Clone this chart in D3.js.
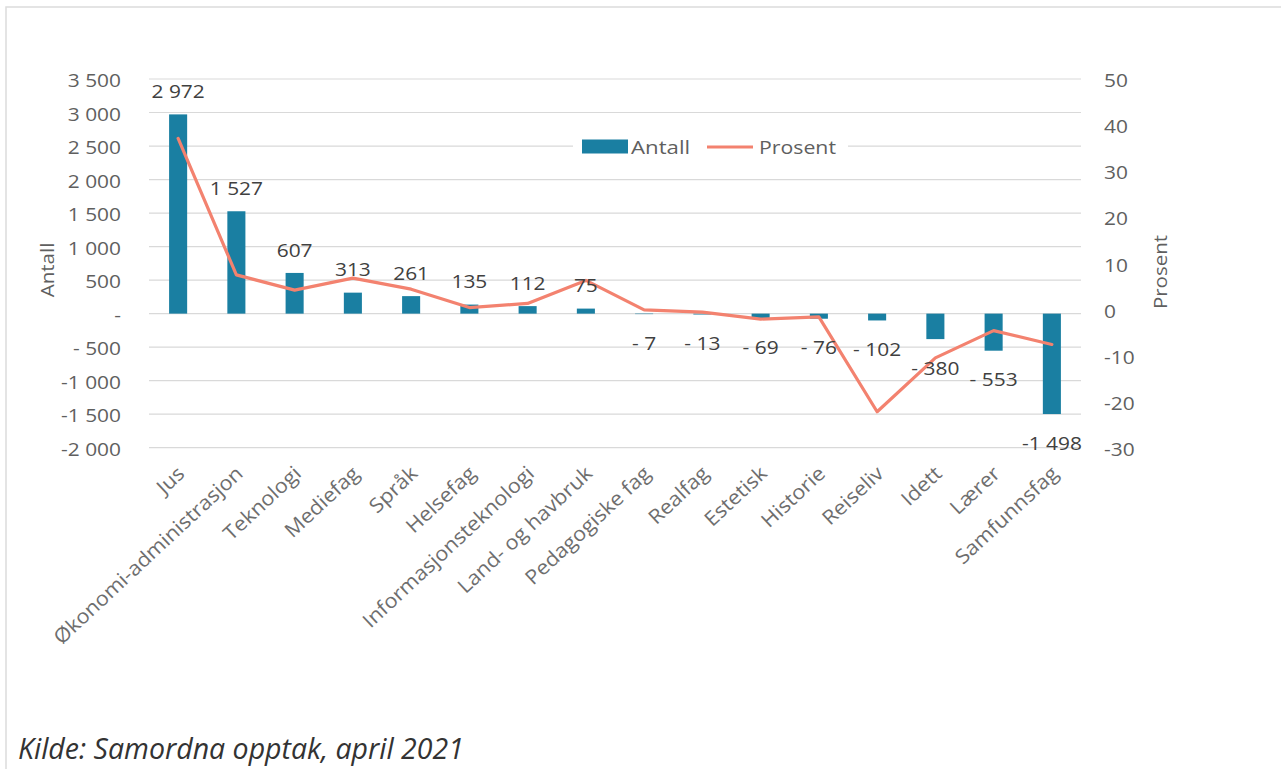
<!DOCTYPE html>
<html>
<head>
<meta charset="utf-8">
<script src="https://cdn.jsdelivr.net/npm/d3@7"></script>
<style>
  body { margin: 0; background: #fff; }
  svg { display: block; }
</style>
</head>
<body>
<svg id="chart" width="1281" height="769"></svg>
<script>
// Study fields, change in number of applicants and change in percent
const categories = ["Jus", "Økonomi-administrasjon", "Teknologi", "Mediefag", "Språk", "Helsefag",
  "Informasjonsteknologi", "Land- og havbruk", "Pedagogiske fag", "Realfag", "Estetisk",
  "Historie", "Reiseliv", "Idett", "Lærer", "Samfunnsfag"];
const antall = [2972, 1527, 607, 313, 261, 135, 112, 75, -7, -13, -69, -76, -102, -380, -553, -1498];
const prosent = [37.1, 7.5, 4.2, 6.8, 4.4, 0.4, 1.3, 6.3, -0.1, -0.6, -2.1, -1.6, -22.2, -10.5, -4.6, -7.6];
const leftTicks = [3500, 3000, 2500, 2000, 1500, 1000, 500, 0, -500, -1000, -1500, -2000];
const rightTicks = [50, 40, 30, 20, 10, 0, -10, -20, -30];
const seriesNames = ["Antall", "Prosent"];
const sourceText = "Kilde: Samordna opptak, april 2021";

const BAR = "#1a7fa2", LINE = "#f3826f", TICK = "#5f5f5f", LABEL = "#404040", GRID = "#d9d9d9";
const FONT = "'Open Sans', sans-serif";
const FS = 19;     // chart text size
const SX = 1.1;    // horizontal text stretch

const svg = d3.select("#chart");

// outer frame (top and left edges)
svg.append("path").attr("d", "M6,769 V7 H1281").attr("fill", "none")
  .attr("stroke", "#dcdcdc").attr("stroke-width", 1.5);

const x = d3.scaleBand().domain(categories).range([149, 1081]).paddingInner(0.69).paddingOuter(0.345);
const yL = d3.scaleLinear().domain([-2000, 3500]).range([447.7, 79]);
const yR = d3.scaleLinear().domain([-30, 50]).range([447.7, 79]);
const cx = d => x(d) + x.bandwidth() / 2;

// number format with space thousands separator, Excel-like negatives
function fmt(v) {
  if (v === 0) return "-";
  const a = Math.abs(v);
  const s = d3.format(",")(a).replace(/,/g, " ");
  if (v > 0) return s;
  return a < 1000 ? "- " + s : "-" + s;
}

function stretchText(sel, tx, ty, sx) {
  sel.attr("transform", (d, i) => `translate(${tx(d, i)},${ty(d, i)}) scale(${sx || SX},1)`);
}

// gridlines
svg.append("g").selectAll("line").data(leftTicks).join("line")
  .attr("x1", 149).attr("x2", 1081)
  .attr("y1", d => yL(d)).attr("y2", d => yL(d))
  .attr("stroke", GRID).attr("stroke-width", 1.2);

// left axis tick labels
const lt = svg.append("g").selectAll("text").data(leftTicks).join("text")
  .attr("text-anchor", "end").attr("dy", "0.35em")
  .attr("font-family", FONT).attr("font-size", FS).attr("fill", TICK)
  .text(d => fmt(d));
stretchText(lt, () => 121, d => yL(d) + 1.5);

// right axis tick labels
const rt = svg.append("g").selectAll("text").data(rightTicks).join("text")
  .attr("text-anchor", "start").attr("dy", "0.35em")
  .attr("font-family", FONT).attr("font-size", FS).attr("fill", TICK)
  .text(d => d);
stretchText(rt, () => 1104, d => yR(d) + 1.5);

// axis titles
svg.append("text").attr("transform", "translate(54,270) rotate(-90) scale(1.08,1)")
  .attr("text-anchor", "middle").attr("font-family", FONT).attr("font-size", FS).attr("fill", TICK)
  .text(seriesNames[0]);
svg.append("text").attr("transform", "translate(1167,272) rotate(-90) scale(1.08,1)")
  .attr("text-anchor", "middle").attr("font-family", FONT).attr("font-size", FS).attr("fill", TICK)
  .text(seriesNames[1]);

// bars
svg.append("g").selectAll("rect").data(categories).join("rect")
  .attr("x", d => x(d))
  .attr("width", x.bandwidth())
  .attr("y", (d, i) => Math.min(yL(antall[i]), yL(0)))
  .attr("height", (d, i) => Math.abs(yL(antall[i]) - yL(0)))
  .attr("fill", BAR);

// percent line
const line = d3.line().x((d, i) => cx(categories[i])).y(d => yR(d));
svg.append("path").datum(prosent).attr("d", line)
  .attr("fill", "none").attr("stroke", LINE).attr("stroke-width", 3.2)
  .attr("stroke-linejoin", "round").attr("stroke-linecap", "round");

// value labels
const vl = svg.append("g").selectAll("text").data(categories).join("text")
  .attr("text-anchor", "middle").attr("dy", "0.35em")
  .attr("font-family", FONT).attr("font-size", FS).attr("fill", LABEL)
  .text((d, i) => fmt(antall[i]));
stretchText(vl, d => cx(d), (d, i) => antall[i] >= 0 ? yL(antall[i]) - 23 : yL(antall[i]) + 29);

// category labels, slanted
svg.append("g").selectAll("text").data(categories).join("text")
  .attr("text-anchor", "end").attr("dy", "0.35em")
  .attr("font-family", FONT).attr("font-size", 20).attr("fill", "#6e6e6e")
  .attr("transform", d => `translate(${cx(d) + 3},470) rotate(-43) scale(1.08,1)`)
  .text(d => d);

// legend
const lg = svg.append("g");
lg.append("rect").attr("x", 573).attr("y", 134).attr("width", 275).attr("height", 26).attr("fill", "#fff");
lg.append("rect").attr("x", 582).attr("y", 139.5).attr("width", 46).attr("height", 14).attr("fill", BAR);
lg.append("text").attr("transform", "translate(631,147) scale(1.17,1)").attr("dy", "0.35em")
  .attr("font-family", FONT).attr("font-size", FS).attr("fill", TICK).text(seriesNames[0]);
lg.append("line").attr("x1", 707).attr("x2", 753).attr("y1", 147).attr("y2", 147)
  .attr("stroke", LINE).attr("stroke-width", 3.2);
lg.append("text").attr("transform", "translate(759,147) scale(1.12,1)").attr("dy", "0.35em")
  .attr("font-family", FONT).attr("font-style", "normal").attr("font-size", FS).attr("fill", TICK).text(seriesNames[1]);

// source note
svg.append("text").attr("x", 18).attr("y", 759)
  .attr("font-family", FONT).attr("font-style", "italic").attr("font-size", 28.5).attr("fill", "#333")
  .text(sourceText);
</script>
</body>
</html>
